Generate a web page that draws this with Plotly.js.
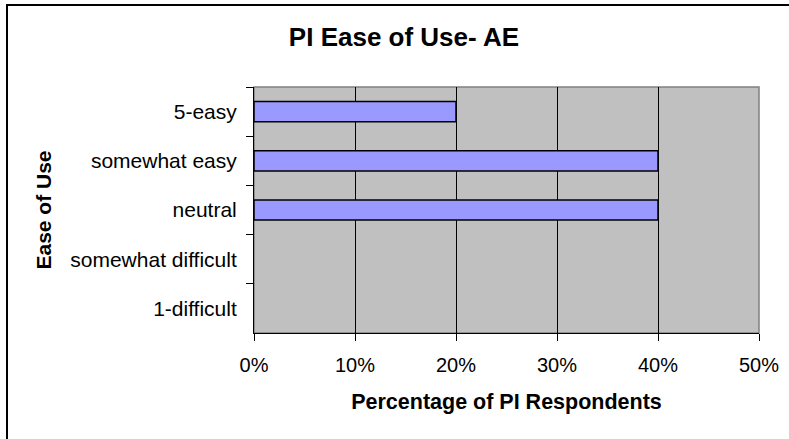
<!DOCTYPE html>
<html>
<head>
<meta charset="utf-8">
<script src="https://cdn.plot.ly/plotly-3.0.1.min.js"></script>
<style>
  html, body { margin: 0; padding: 0; background: #ffffff; }
  #chart { width: 789px; height: 439px; }
</style>
</head>
<body>
<div id="chart"></div>
<script>
// Categories top-to-bottom as shown in the chart
const categories = ['5-easy', 'somewhat easy', 'neutral', 'somewhat difficult', '1-difficult'];
// Share of PI respondents (fraction)
const percentages = [0.20, 0.40, 0.40, 0.00, 0.00];
const xTickValues = [0, 0.1, 0.2, 0.3, 0.4, 0.5];
const xTickLabels = ['0%', '10%', '20%', '30%', '40%', '50%'];

const FONT = '"Liberation Sans", Arial, sans-serif';

const trace = {
  type: 'bar',
  orientation: 'h',
  x: percentages,
  y: categories,
  marker: {
    color: '#9999FF',
    line: { color: '#000000', width: percentages.map(v => (v > 0 ? 1.5 : 0)) }
  },
  hoverinfo: 'x+y'
};

const layout = {
  width: 789,
  height: 439,
  margin: { l: 254, r: 30, t: 87, b: 106, pad: 0 },
  paper_bgcolor: '#FFFFFF',
  plot_bgcolor: '#C0C0C0',
  showlegend: false,
  bargap: 0.59,
  font: { family: FONT, color: '#000000', size: 20 },
  title: {
    text: '<b>PI Ease of Use- AE</b>',
    font: { family: FONT, size: 26, color: '#000000' },
    xref: 'container', yref: 'container',
    x: 0.512, xanchor: 'center',
    y: 1 - 37 / 439, yanchor: 'middle'
  },
  xaxis: {
    range: [0, 0.5],
    tickvals: xTickValues,
    ticktext: xTickLabels,
    showgrid: true,
    gridcolor: '#000000',
    gridwidth: 1,
    zeroline: false,
    showline: true,
    linecolor: '#000000',
    linewidth: 1,
    ticks: 'outside',
    ticklen: 7,
    tickcolor: '#000000',
    ticklabelstandoff: 7,
    tickfont: { family: FONT, size: 20, color: '#000000' },
    title: {
      text: '<b>Percentage of PI Respondents</b>',
      font: { family: FONT, size: 21.5, color: '#000000' },
      standoff: 18
    },
    fixedrange: true
  },
  yaxis: {
    type: 'category',
    autorange: 'reversed',
    showgrid: false,
    zeroline: false,
    showline: true,
    linecolor: '#000000',
    linewidth: 1,
    ticks: 'outside',
    tickson: 'boundaries',
    ticklen: 7,
    tickcolor: '#000000',
    ticklabelstandoff: 12,
    tickfont: { family: FONT, size: 21, color: '#000000' },
    title: {
      text: '<b>Ease of Use</b>',
      font: { family: FONT, size: 21, color: '#000000' },
      standoff: 12
    },
    fixedrange: true
  },
  shapes: [
    // grey plot-area frame (top and right edges)
    { type: 'rect', xref: 'paper', yref: 'paper', x0: 0, x1: 1, y0: 0, y1: 1,
      line: { color: '#808080', width: 1.5 }, layer: 'below' },
    // outer chart border
    { type: 'rect', xref: 'paper', yref: 'paper',
      x0: (7 - 254) / 505, x1: (800 - 254) / 505,
      y0: (333 - 450) / 246, y1: 1 + (87 - 5) / 246,
      line: { color: '#000000', width: 2 }, fillcolor: 'rgba(0,0,0,0)' }
  ]
};

Plotly.newPlot('chart', [trace], layout, { displayModeBar: false, staticPlot: true });
</script>
</body>
</html>
